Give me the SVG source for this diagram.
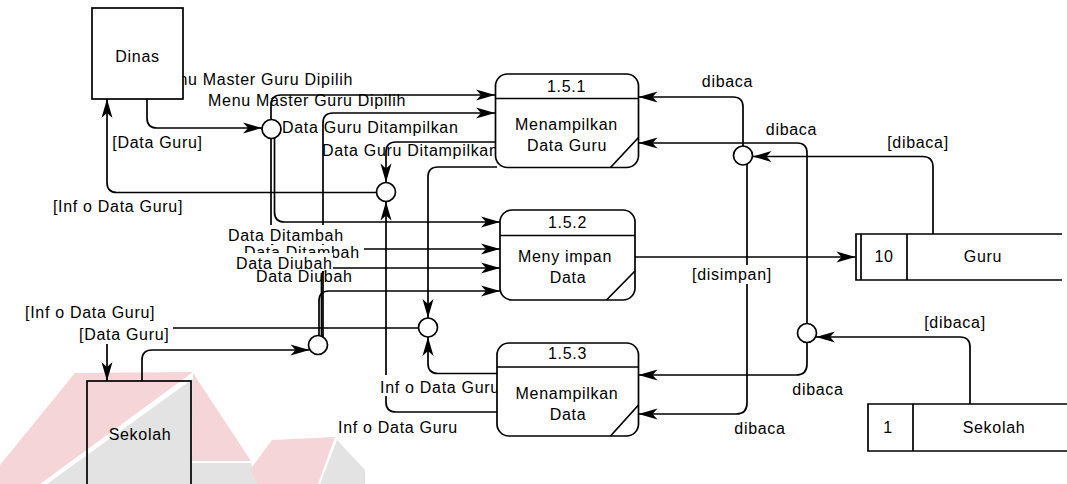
<svg xmlns="http://www.w3.org/2000/svg" width="1067" height="484" viewBox="0 0 1067 484">
<defs>
<style>
.t{font-family:"Liberation Sans",Arial,sans-serif;font-size:16px;letter-spacing:0.7px;fill:#000}
.m{text-anchor:middle}
.c{fill:none;stroke:#000;stroke-width:1.7;marker-end:url(#ah)}
.box{fill:#fff;stroke:#000;stroke-width:1.7}
.ln{fill:none;stroke:#000;stroke-width:1.7}
.bg{fill:#fff}
.pk{fill:#f6d5d8}
.gy{fill:#e3e3e3}
</style>
<marker id="ah" viewBox="-20 -6 21 12" refX="0" refY="0" markerWidth="21" markerHeight="12" markerUnits="userSpaceOnUse" orient="auto">
<path d="M0,0 L-19,-5.5 L-14,0 L-19,5.5 Z" fill="#000"/>
</marker>
</defs>
<rect width="1067" height="484" fill="#fff"/>
<g id="watermark">
<polygon class="pk" points="75,373 193,372 40,484 0,484 0,465"/>
<polygon class="gy" points="194,378 191,484 47,484"/>
<polygon class="pk" points="193,373 251,461 192,461"/>
<polygon class="gy" points="192,463 251,463 258,484 185,484"/>
<polygon class="pk" points="250,470 272,440 335,437 318,484 258,484"/>
<polygon class="gy" points="337,440 365,470 365,484 320,484"/>
</g>
<g id="connectors">
<path class="c" d="M147,99 V118 Q147,128 157,128 H262"/>
<path class="c" d="M271,120 V105 Q271,95 281,95 H495"/>
<path class="c" d="M274.5,138 V212 Q274.5,222 284.5,222 H500"/>
<path class="c" d="M271,138.5 V239 Q271,249 281,249 H500"/>
<path class="c" d="M142,381 V360 Q142,350 152,350 H309.5"/>
<path class="c" d="M323,337 V123 Q323,113 333,113 H495"/>
<path class="c" d="M321.5,337 V278 Q321.5,268 331.5,268 H500"/>
<path class="c" d="M319,337 V301 Q319,291 329,291 H500"/>
<path class="c" d="M495.5,142 H396 Q386,142 386,152 V182.5"/>
<path class="c" d="M497,412 H396 Q386,412 386,402 V201.5"/>
<path class="c" d="M376.5,192.5 H117 Q107,192.5 107,182.5 V99"/>
<path class="c" d="M497,167 H438 Q428,167 428,177 V318"/>
<path class="c" d="M497,373.5 H438 Q428,373.5 428,363.5 V337"/>
<path class="c" d="M418.5,328 H117 Q107,328 107,338 V381"/>
<path class="c" d="M743,146.5 V107 Q743,97 733,97 H638.5"/>
<path class="c" d="M807,323.5 V153 Q807,143 797,143 H638.5"/>
<path class="c" d="M933,234 V167 Q933,156.5 922.5,156.5 H752.5"/>
<path class="c" d="M747,164 V403 Q747,414 736,414 H638.5"/>
<path class="c" d="M807,342.5 V364 Q807,375 796,375 H638.5"/>
<path class="c" d="M970,404 V347 Q970,337 960,337 H816"/>
<path class="c" d="M635,257 H855.5"/>
</g>
<g id="labels">
<text class="t" x="353" y="85" text-anchor="end">Menu Master Guru Dipilih</text>
<text class="t" x="208" y="106">Menu Master Guru Dipilih</text>
<text class="t m" x="157.5" y="148">[Data Guru]</text>
<text class="t m" x="118" y="212">[Inf o Data Guru]</text>
<text class="t" x="282" y="133">Data Guru Ditampilkan</text>
<text class="t" x="322" y="156">Data Guru Ditampilkan</text>
<rect class="bg" x="226" y="225" width="122" height="19"/>
<text class="t" x="228" y="241">Data Ditambah</text>
<rect class="bg" x="243" y="245" width="121" height="8"/>
<text class="t" x="244" y="258">Data Ditambah</text>
<rect class="bg" x="234" y="253" width="99" height="18"/>
<text class="t" x="236" y="269">Data Diubah</text>
<text class="t" x="256" y="282">Data Diubah</text>
<text class="t" x="25" y="318">[Inf o Data Guru]</text>
<rect class="bg" x="77" y="324" width="96" height="20"/>
<text class="t" x="79" y="340">[Data Guru]</text>
<rect class="bg" x="378" y="375" width="119" height="21"/>
<text class="t" x="380" y="393">Inf o Data Guru</text>
<text class="t" x="338" y="433">Inf o Data Guru</text>
<text class="t m" x="727.5" y="87">dibaca</text>
<text class="t m" x="791.5" y="135">dibaca</text>
<text class="t m" x="918" y="148">[dibaca]</text>
<rect class="bg" x="690" y="265" width="84" height="19"/>
<text class="t m" x="732" y="280">[disimpan]</text>
<text class="t m" x="955" y="328">[dibaca]</text>
<text class="t m" x="818" y="395">dibaca</text>
<text class="t m" x="760" y="434">dibaca</text>
</g>
<g id="dinas">
<rect class="box" x="92" y="8" width="91" height="91"/>
<text class="t m" x="137.5" y="62">Dinas</text>
</g>
<g id="sekolah-entity">
<rect class="ln" x="87" y="381" width="104" height="120"/>
<text class="t m" x="140" y="440">Sekolah</text>
</g>
<g id="p151">
<rect class="box" x="495.5" y="74" width="143" height="93.5" rx="12"/>
<path class="ln" d="M495.5,98.5 H638.5 M610.5,167.5 L638.5,137.5"/>
<text class="t m" x="566.5" y="92">1.5.1</text>
<text class="t m" x="566.5" y="130">Menampilkan</text>
<text class="t m" x="567" y="151">Data Guru</text>
</g>
<g id="p152">
<rect class="box" x="500" y="210" width="135" height="90" rx="12"/>
<path class="ln" d="M500,235.5 H635 M606.5,300 L635,271"/>
<text class="t m" x="567.5" y="228">1.5.2</text>
<text class="t m" x="565" y="262">Meny impan</text>
<text class="t m" x="568" y="283">Data</text>
</g>
<g id="p153">
<rect class="box" x="497" y="343" width="141.5" height="93" rx="12"/>
<path class="ln" d="M497,367 H638.5 M610.5,436 L638.5,405"/>
<text class="t m" x="567.5" y="359">1.5.3</text>
<text class="t m" x="567" y="399">Menampilkan</text>
<text class="t m" x="568" y="420">Data</text>
</g>
<g id="ds-guru">
<path class="ln" d="M1062,234 H856 V280 H1062 M861,234 V280 M907,234 V280"/>
<text class="t m" x="884" y="262">10</text>
<text class="t m" x="983" y="262">Guru</text>
</g>
<g id="ds-sekolah">
<path class="ln" d="M1067,404 H868 V451 H1067 M913,404 V451"/>
<text class="t m" x="888" y="433">1</text>
<text class="t m" x="994" y="433">Sekolah</text>
</g>
<g id="junctions">
<circle id="j1" class="box" cx="271.5" cy="129" r="9.5"/>
<circle id="j2" class="box" cx="386" cy="192" r="9.5"/>
<circle id="j3" class="box" cx="428" cy="327.5" r="9.5"/>
<circle id="j4" class="box" cx="318" cy="345" r="9.5"/>
<circle id="j5" class="box" cx="743" cy="155.5" r="9.5"/>
<circle id="j6" class="box" cx="807" cy="333" r="9.5"/>
</g>
</svg>
